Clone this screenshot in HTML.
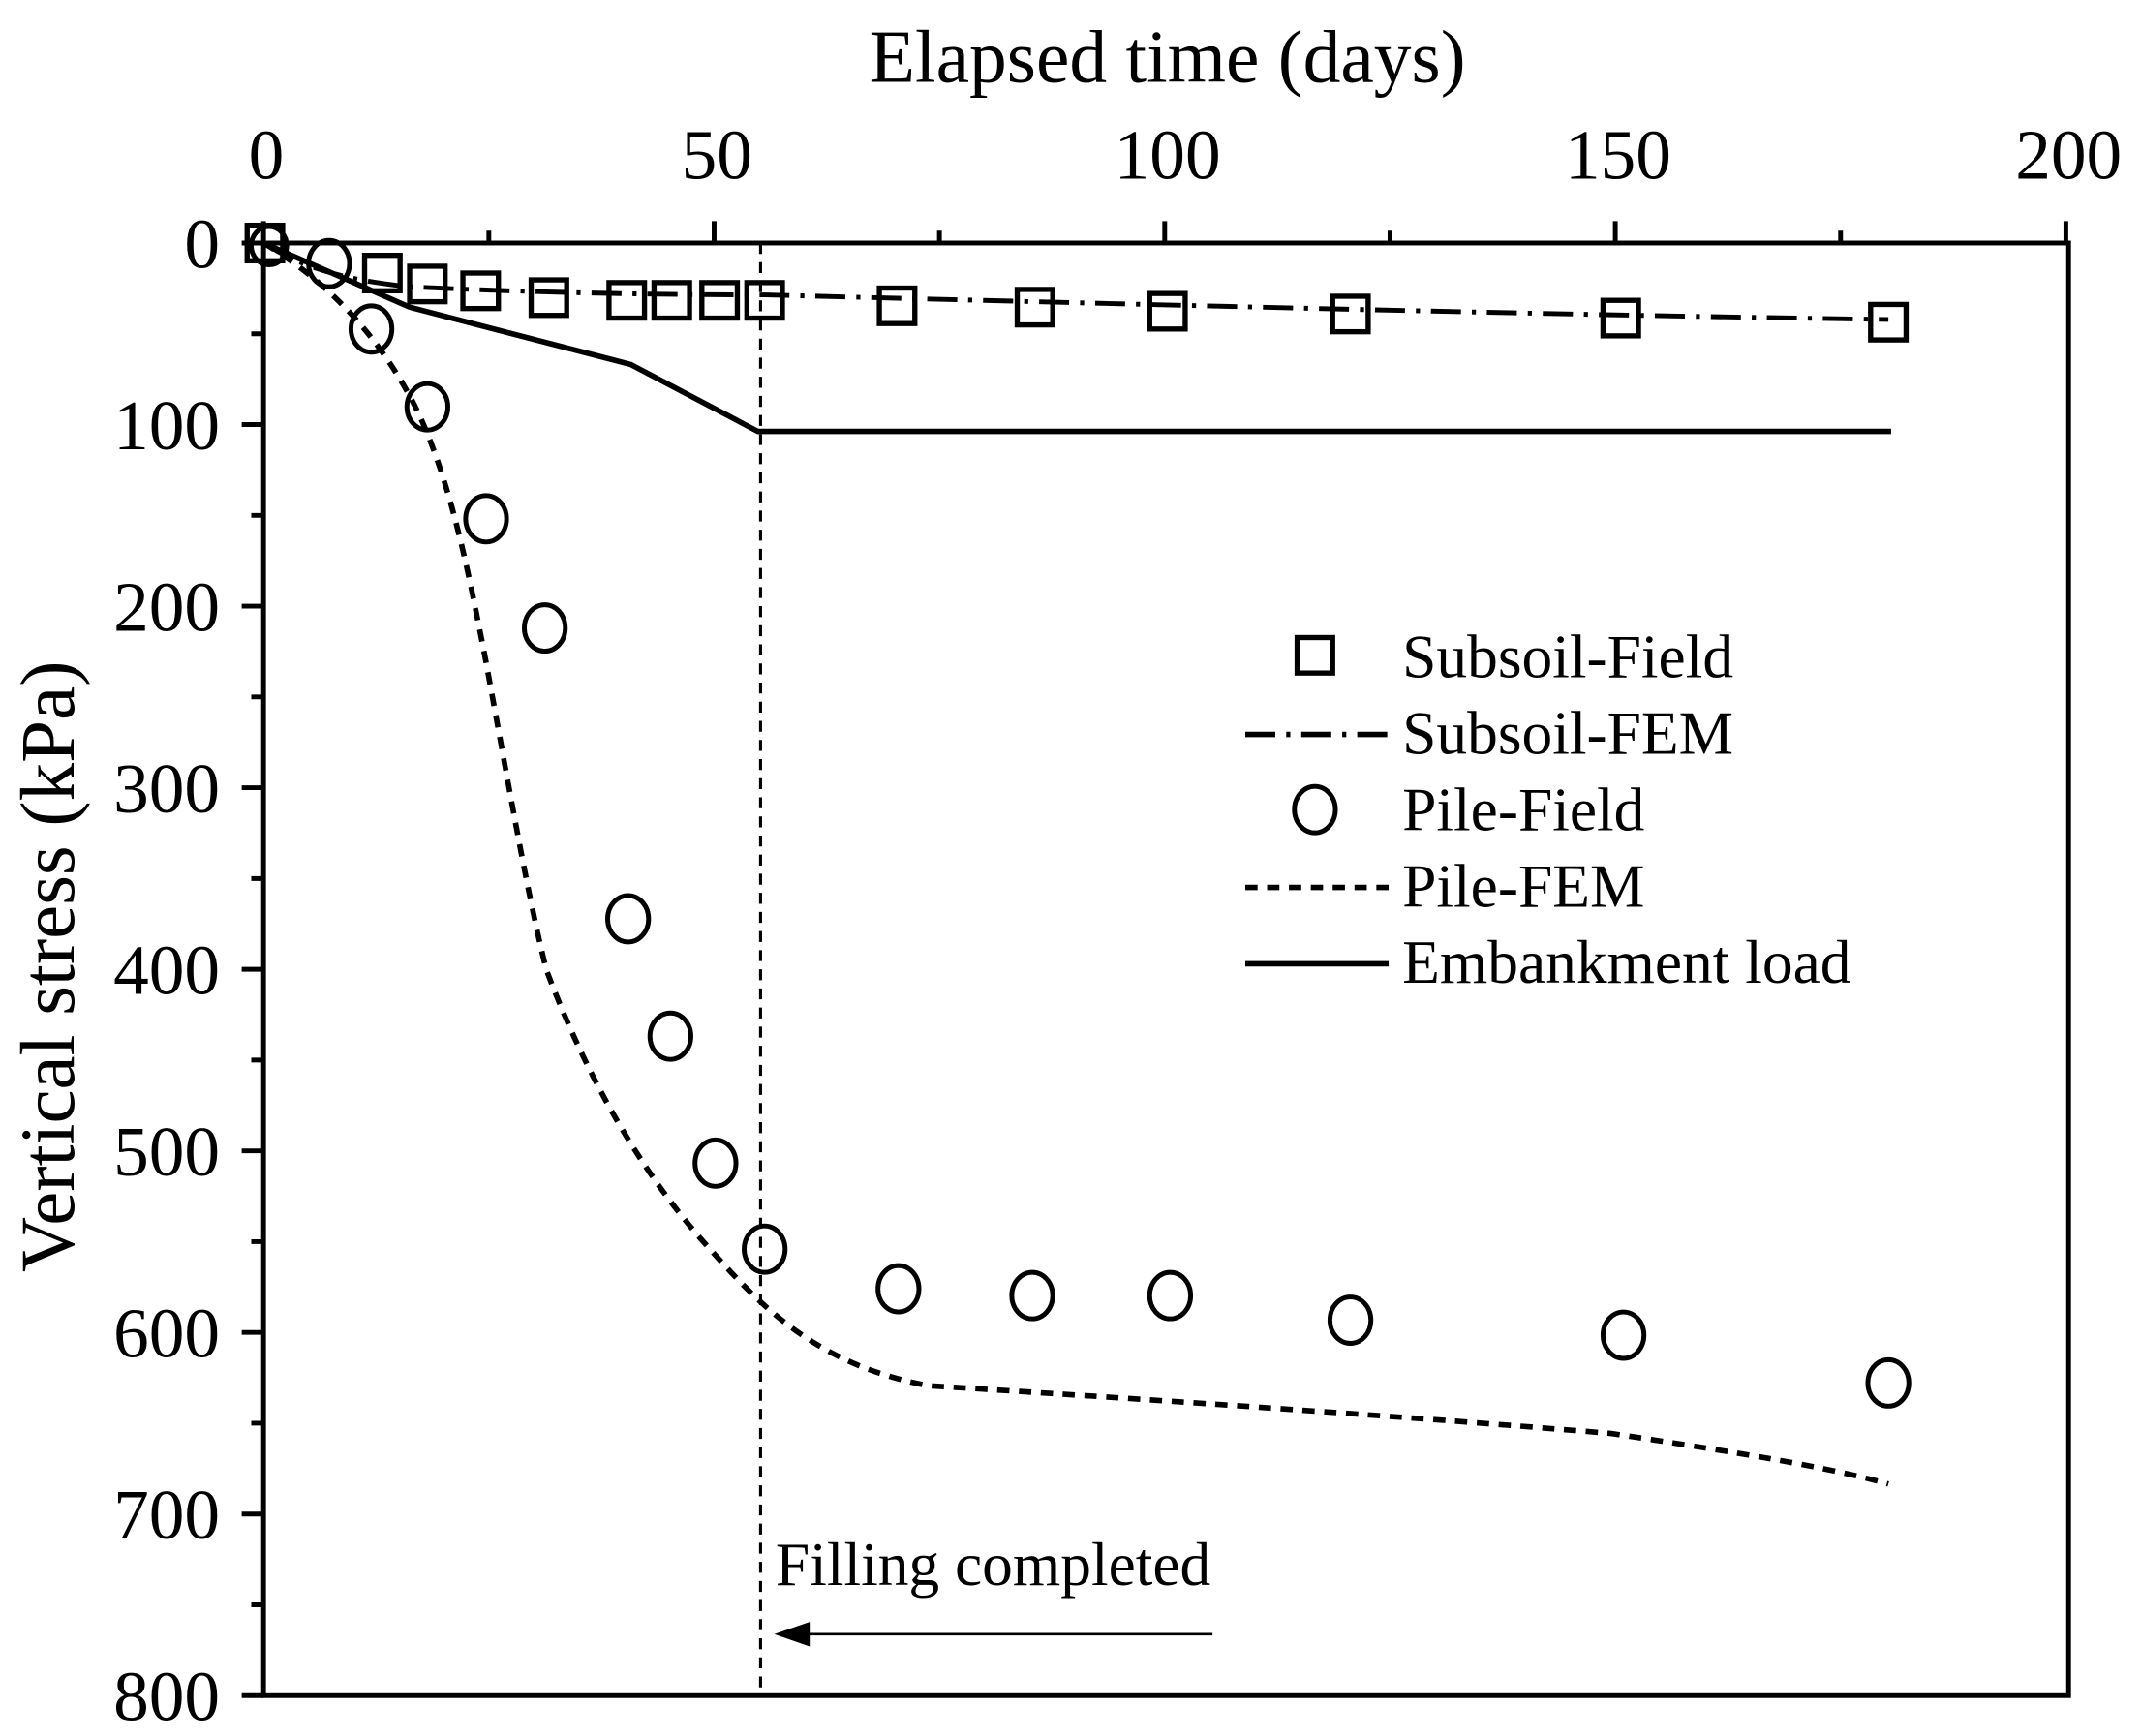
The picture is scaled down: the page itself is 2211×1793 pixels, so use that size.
<!DOCTYPE html>
<html><head><meta charset="utf-8"><style>html,body{margin:0;padding:0;background:#fff}svg{display:block}</style></head>
<body>
<svg width="2211" height="1793" viewBox="0 0 1568 1271.6" xmlns="http://www.w3.org/2000/svg" font-family="'Liberation Serif', serif" fill="none" stroke="#000">
<g fill="#000" stroke="none" font-size="52">
<text x="855" y="60" text-anchor="middle" font-size="55">Elapsed time (days)</text>
<text x="195" y="131" text-anchor="middle">0</text>
<text x="525" y="131" text-anchor="middle">50</text>
<text x="855" y="131" text-anchor="middle">100</text>
<text x="1185" y="131" text-anchor="middle">150</text>
<text x="1515" y="131" text-anchor="middle">200</text>
<g text-anchor="end">
<text x="161" y="196">0</text>
<text x="161" y="329">100</text>
<text x="161" y="462">200</text>
<text x="161" y="595">300</text>
<text x="161" y="728">400</text>
<text x="161" y="861">500</text>
<text x="161" y="994">600</text>
<text x="161" y="1127">700</text>
<text x="161" y="1260">800</text>
</g>
<text transform="translate(54,708) rotate(-90)" text-anchor="middle" font-size="56">Vertical stress (kPa)</text>
<g font-size="45">
<text x="1027" y="496">Subsoil-Field</text>
<text x="1027" y="552">Subsoil-FEM</text>
<text x="1027" y="608">Pile-Field</text>
<text x="1027" y="664">Pile-FEM</text>
<text x="1027" y="720">Embankment load</text>
<text x="568" y="1161">Filling completed</text>
</g>
</g>
<g stroke-width="3.5">
<rect x="193" y="178" width="1322" height="1064"/>
<path d="M193 178v-16M358 178v-9M523 178v-16M688 178v-9M853 178v-16M1018 178v-9M1183 178v-16M1348 178v-9M1513 178v-16"/>
<path d="M193 178h-16M193 244.5h-9M193 311h-16M193 377.5h-9M193 444h-16M193 510.5h-9M193 577h-16M193 643.5h-9M193 710h-16M193 776.5h-9M193 843h-16M193 909.5h-9M193 976h-16M193 1042.5h-9M193 1109h-16M193 1175.5h-9M193 1242h-16"/>
</g>
<path d="M557 178V1242" stroke-width="2.2" stroke-dasharray="8,6"/>
<path d="M888 1197H585" stroke-width="1.8"/>
<path d="M567 1197l26-9v18z" fill="#000" stroke="none"/>
<path d="M193 178L300 225L462 267L555 316L1385 316" stroke-width="4"/>
<path d="M193 178C230 200 270 235 300 290C330 345 345 430 355 480C370 560 385 650 400 710C430 790 470 860 520 915C560 960 600 1000 680 1015C760 1020 1000 1035 1180 1050C1280 1065 1340 1075 1383 1087" stroke-width="4" stroke-dasharray="9,7"/>
<path d="M193 178C220 195 250 205 300 210C400 215 500 216 560 216C800 222 1100 230 1383 234" stroke-width="3.5" stroke-dasharray="22,8,3,8"/>
<g stroke-width="3.8">
<rect x="181" y="165" width="26" height="26"/>
<rect x="267" y="187" width="26" height="26"/>
<rect x="300" y="195" width="26" height="26"/>
<rect x="339" y="200" width="26" height="26"/>
<rect x="389" y="205" width="26" height="26"/>
<rect x="446" y="207" width="26" height="26"/>
<rect x="479" y="207" width="26" height="26"/>
<rect x="514" y="207" width="26" height="26"/>
<rect x="547" y="207" width="26" height="26"/>
<rect x="644" y="211" width="26" height="26"/>
<rect x="745" y="212" width="26" height="26"/>
<rect x="842" y="215" width="26" height="26"/>
<rect x="976" y="217" width="26" height="26"/>
<rect x="1174" y="220" width="26" height="26"/>
<rect x="1370" y="223" width="26" height="26"/>
<rect x="950" y="467" width="26" height="26"/>
</g>
<g stroke-width="3.5">
<ellipse cx="197" cy="180" rx="13" ry="14"/>
<ellipse cx="241" cy="193" rx="15" ry="17"/>
<ellipse cx="272" cy="241" rx="15" ry="17"/>
<ellipse cx="313" cy="298" rx="15" ry="17"/>
<ellipse cx="356" cy="380" rx="15" ry="17"/>
<ellipse cx="399" cy="460" rx="15" ry="17"/>
<ellipse cx="460" cy="673" rx="15" ry="17"/>
<ellipse cx="491" cy="759" rx="15" ry="17"/>
<ellipse cx="524" cy="852" rx="15" ry="17"/>
<ellipse cx="560" cy="915" rx="15" ry="17"/>
<ellipse cx="658" cy="944" rx="15" ry="17"/>
<ellipse cx="756" cy="949" rx="15" ry="17"/>
<ellipse cx="857" cy="949" rx="15" ry="17"/>
<ellipse cx="989" cy="967" rx="15" ry="17"/>
<ellipse cx="1189" cy="978" rx="15" ry="17"/>
<ellipse cx="1383" cy="1013" rx="15" ry="17"/>
<ellipse cx="963" cy="593" rx="15" ry="17"/>
</g>
<path d="M912 538H1017" stroke-width="4" stroke-dasharray="22,8,3,8"/>
<path d="M912 650H1017" stroke-width="4" stroke-dasharray="9,7"/>
<path d="M912 706H1017" stroke-width="4"/>
</svg>
</body></html>
